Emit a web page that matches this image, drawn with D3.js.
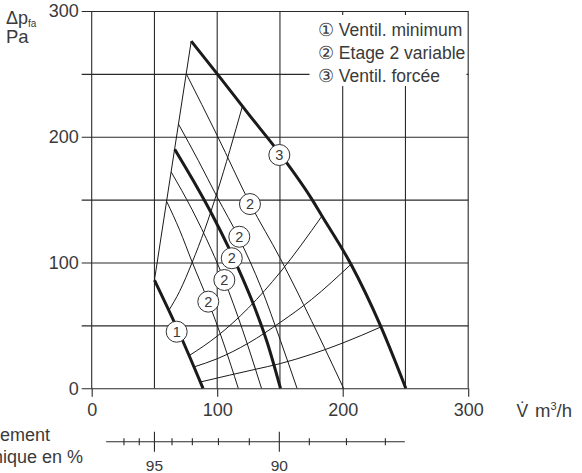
<!DOCTYPE html>
<html><head><meta charset="utf-8">
<script src="https://cdn.jsdelivr.net/npm/d3@7"></script>
<style>
html,body{margin:0;padding:0;background:#fff;}
svg{display:block;font-family:"Liberation Sans",Arial,Helvetica,sans-serif;}
</style></head><body>
<svg id="chart" width="582" height="473"></svg>
<script>
// ---------- data ----------
const gridFlow = [0, 50, 100, 150, 200, 250, 300];
const flowTicks = [0, 100, 200, 300];
const gridPressure = [0, 50, 100, 150, 200, 250, 300];
const pressureTicks = [0, 100, 200, 300];

// fan curves (flow m3/h, pressure Pa)
const minFlow = [50, 61, 72, 80, 88.7];
const minPress = [86, 63, 39, 20.5, 0];
const st2Flow = [66.2, 81, 96, 110, 120, 128, 140, 150.4];
const st2Press = [190, 165, 138, 110, 88, 69, 36, 0];
const forcedFlow = [79.3, 100, 125, 150.4, 175, 183.5, 206.6, 230, 250.3];
const forcedPress = [276, 250, 218, 186, 151, 137, 98.6, 50, 0];
const varEFlow = [59.8, 70, 80, 92.9, 105, 116.8];
const varEPress = [148.5, 126, 100.5, 69, 36, 0];
const varDFlow = [63.3, 80, 95, 105.7, 120, 135.3];
const varDPress = [172, 142, 111, 86, 47, 0];
const varBFlow = [69.2, 85, 100, 117.6, 135, 150.4, 163.6];
const varBPress = [210, 181, 152, 119, 80, 38, 0];
const varAFlow = [75.4, 100, 126.1, 150.4, 175, 200.7];
const varAPress = [250, 201, 147, 103, 54, 0];
const limitFlow = [50, 79.3];
const limitPress = [86, 276];

// system characteristic curves
const sys1Flow = [61.5, 70, 80, 90, 100, 110, 120];
const sys1Press = [62, 77, 100, 126, 156, 189, 224];
const sys2Flow = [77.7, 100, 125, 150.4, 183.5];
const sys2Press = [26, 41.5, 64, 92.5, 137];
const sys3Flow = [81.5, 100, 125, 150.4, 175, 206.6];
const sys3Press = [17, 23.5, 36, 52.5, 70.5, 98.6];
const sys4Flow = [86.6, 110, 130, 150.4, 175, 200, 230.5];
const sys4Press = [5, 10.5, 15, 19.7, 27, 36, 48.8];

// circled curve labels
const labelText = ["1", "2", "2", "2", "2", "2", "3"];
const labelFlow = [67.7, 92.9, 105.7, 111.6, 117.6, 126.1, 149.5];
const labelPress = [45, 68.9, 86.1, 103.4, 120.5, 146.5, 185.5];

// thermal efficiency scale
const effValues = [97, 96, 95, 94, 93, 92, 91, 90, 89, 88, 87];
const effFlow = [25.7, 37.9, 50, 64, 80.2, 101, 125.6, 149.5, 173.4, 203, 234];
const effLabeled = [95, 90];
const effRange = [11.5, 249.5];

const legendItems = ["\u2460 Ventil. minimum", "\u2461 Etage 2 variable", "\u2462 Ventil. forc\u00e9e"];

// ---------- drawing ----------
const svg = d3.select("#chart");
const x = d3.scaleLinear().domain([0, 300]).range([91.7, 468.2]);
const y = d3.scaleLinear().domain([0, 300]).range([388.3, 11]);
const ink = "#1a1a1a";
const soft = "#3a3a3a";

// horizontal grid via axis
const yAxis = d3.axisLeft(y).tickValues(gridPressure)
  .tickSize(-(x(300) - x(0) + 10)).tickPadding(3)
  .tickFormat(d => pressureTicks.includes(d) ? d : "");
const gy = svg.append("g").attr("transform", `translate(${x(0) - 10},0)`).call(yAxis);
gy.select(".domain").remove();
gy.selectAll(".tick line").attr("stroke", "#2a2a2a").attr("stroke-width", 1.1);
gy.selectAll(".tick text").attr("font-size", 18).attr("fill", soft)
  .attr("font-family", "'Liberation Sans', Arial, sans-serif");

// vertical grid
svg.append("g").selectAll("line").data(gridFlow).join("line")
  .attr("x1", d => x(d)).attr("x2", d => x(d))
  .attr("y1", y(300)).attr("y2", y(0))
  .attr("stroke", "#2a2a2a").attr("stroke-width", 1.1);

// x axis labels + ticks below
const xAxis = d3.axisBottom(x).tickValues(flowTicks).tickSize(8.4).tickPadding(7);
const gx = svg.append("g").attr("transform", `translate(0,${y(0)})`).call(xAxis);
gx.select(".domain").remove();
gx.selectAll(".tick line").attr("stroke", "#2a2a2a").attr("stroke-width", 1.1);
gx.selectAll(".tick text").attr("font-size", 18).attr("fill", soft)
  .attr("font-family", "'Liberation Sans', Arial, sans-serif");

// curves
const line = d3.line().x(d => x(d[0])).y(d => y(d[1])).curve(d3.curveMonotoneX);
const straight = d3.line().x(d => x(d[0])).y(d => y(d[1]));
const zipPts = (a, b) => a.map((v, i) => [v, b[i]]);

const thin = [
  [sys1Flow, sys1Press], [sys2Flow, sys2Press], [sys3Flow, sys3Press], [sys4Flow, sys4Press],
  [varEFlow, varEPress], [varDFlow, varDPress], [varBFlow, varBPress], [varAFlow, varAPress]
];
svg.append("g").selectAll("path").data(thin).join("path")
  .attr("d", d => line(zipPts(d[0], d[1])))
  .attr("fill", "none").attr("stroke", ink).attr("stroke-width", 1);
svg.append("path").attr("d", straight(zipPts(limitFlow, limitPress)))
  .attr("fill", "none").attr("stroke", ink).attr("stroke-width", 1);

const bold = [[minFlow, minPress], [st2Flow, st2Press], [forcedFlow, forcedPress]];
svg.append("g").selectAll("path").data(bold).join("path")
  .attr("d", d => line(zipPts(d[0], d[1])))
  .attr("fill", "none").attr("stroke", ink).attr("stroke-width", 3)
  .attr("stroke-linejoin", "round");

// circled labels
const lab = svg.append("g").selectAll("g").data(labelText).join("g")
  .attr("transform", (d, i) => `translate(${x(labelFlow[i])},${y(labelPress[i])})`);
lab.append("circle").attr("r", 10.5).attr("fill", "#fff")
  .attr("stroke", "#333").attr("stroke-width", 1);
lab.append("text").text(d => d).attr("text-anchor", "middle").attr("dy", "0.36em")
  .attr("font-size", 14.5).attr("fill", soft);

// legend box
svg.append("rect").attr("x", 309.5).attr("y", 15).attr("width", 157).attr("height", 71).attr("fill", "#fff");
svg.append("g").selectAll("text").data(legendItems).join("text")
  .attr("x", 318).attr("y", (d, i) => 36 + i * 23)
  .attr("font-size", 17.5).attr("fill", soft).text(d => d);

// axis titles
const yt = svg.append("text").attr("x", 6).attr("y", 24).attr("font-size", 18).attr("fill", soft);
yt.append("tspan").text("\u0394p");
yt.append("tspan").attr("font-size", 10).attr("dy", 3).text("fa");
svg.append("text").attr("x", 6).attr("y", 43).attr("font-size", 18.5).attr("fill", soft).text("Pa");

svg.append("text").attr("x", 516.5).attr("y", 416.7).attr("font-size", 17.5).attr("fill", soft).text("V\u0307");
const xt = svg.append("text").attr("x", 535).attr("y", 416.7).attr("font-size", 18.5).attr("fill", soft);
xt.append("tspan").text("m");
xt.append("tspan").attr("font-size", 11).attr("dy", -6.5).text("3");
xt.append("tspan").attr("dy", 6.5).text("/h");

// efficiency scale
const effY = 441.7;
const eg = svg.append("g");
eg.append("line").attr("x1", x(effRange[0])).attr("x2", x(effRange[1]))
  .attr("y1", effY).attr("y2", effY).attr("stroke", "#2a2a2a").attr("stroke-width", 1.1);
eg.selectAll(".et").data(effValues).join("line").attr("class", "et")
  .attr("x1", (d, i) => x(effFlow[i])).attr("x2", (d, i) => x(effFlow[i]))
  .attr("y1", d => effLabeled.includes(d) ? effY - 10 : effY - 3.5)
  .attr("y2", d => effLabeled.includes(d) ? effY + 10 : effY + 3.5)
  .attr("stroke", "#2a2a2a").attr("stroke-width", 1.1);
eg.selectAll(".el").data(effValues.filter(d => effLabeled.includes(d))).join("text").attr("class", "el")
  .attr("x", d => x(effFlow[effValues.indexOf(d)])).attr("y", 470.5)
  .attr("text-anchor", "middle").attr("font-size", 15.5).attr("fill", soft).text(d => d);

svg.append("text").attr("x", -43).attr("y", 441).attr("font-size", 18).attr("fill", soft).text("Rendement");
svg.append("text").attr("x", -43).attr("y", 463.3).attr("font-size", 18).attr("fill", soft).text("thermique en %");
</script>
</body></html>
